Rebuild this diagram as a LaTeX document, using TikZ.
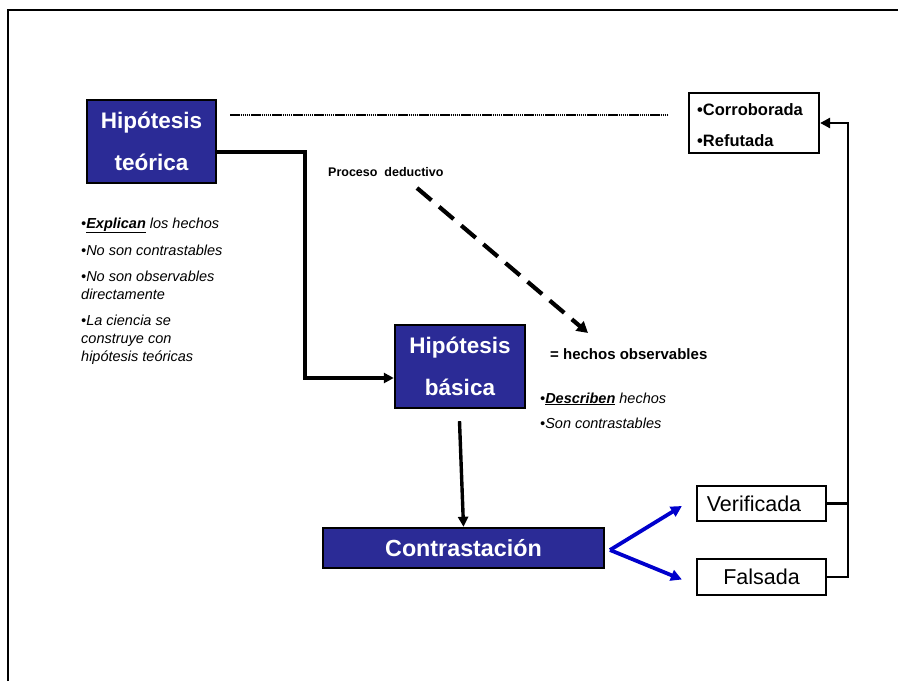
\documentclass[tikz,border=0pt]{standalone}
\usepackage{fontspec}
\setmainfont{Liberation Sans}
\usetikzlibrary{arrows.meta,calc}
\definecolor{navybox}{RGB}{43,43,150}
\definecolor{bluearrow}{RGB}{0,0,204}
\begin{document}
\begin{tikzpicture}[x=1pt,y=-1pt,
  hbox/.style={draw=black,line width=2.4pt,fill=navybox,text=white,
    font=\fontsize{22.5}{42}\selectfont\bfseries,align=center,inner sep=0pt},
  wbox/.style={draw=black,line width=2.2pt,fill=white,inner sep=0pt},
  note/.style={anchor=base west,inner sep=0pt,font=\fontsize{14.5}{16}\selectfont\itshape},
  boldnote/.style={anchor=base west,inner sep=0pt,font=\fontsize{15}{16}\selectfont\bfseries},
  conn/.style={line width=3.4pt,-{Triangle[length=10pt,width=10pt]}},
  bconn/.style={line width=3.8pt,draw=bluearrow,-{Triangle[length=11pt,width=11pt]}}]
\useasboundingbox (0,0) rectangle (898,681);
% outer frame
\draw[line width=2.6pt] (8,681) -- (8,10) -- (898,10);

% main boxes
\node[hbox,minimum width=129pt,minimum height=83pt] (teo) at (151.5,141.5) {Hipótesis\\teórica};
\node[hbox,minimum width=130pt,minimum height=83pt] (bas) at (460,366.5) {Hipótesis\\básica};
\node[hbox,minimum width=281pt,minimum height=40pt,font=\fontsize{23.3}{28}\selectfont\bfseries] (con) at (463.5,548) {Contrastación};

% outcome boxes
\node[wbox,minimum width=130pt,minimum height=60pt] (corr) at (754,123) {};
\node[boldnote,font=\fontsize{16.5}{18}\selectfont\bfseries] (corrA) at (697,115.5) {•Corroborada};
\node[boldnote,font=\fontsize{16.5}{18}\selectfont\bfseries] (corrB) at (697,146.5) {•Refutada};
\node[wbox,minimum width=129pt,minimum height=35pt,font=\fontsize{21.5}{24}\selectfont] (ver) at (761.5,503.5) {Verificada\hspace*{15pt}};
\node[wbox,minimum width=129pt,minimum height=36pt,font=\fontsize{21.5}{24}\selectfont] (fal) at (761.5,577) {Falsada};

% notes under the theoretical hypothesis
\node[note] (t1) at (81,228) {•\textbf{\underline{Explican}} los hechos};
\node[note] (t2) at (81,255) {•No son contrastables};
\node[note] (t3a) at (81,281) {•No son observables};
\node[note] (t3b) at (81,299) {directamente};
\node[note] (t4a) at (81,325) {•La ciencia se};
\node[note] (t4b) at (81,343) {construye con};
\node[note] (t4c) at (81,361) {hipótesis teóricas};

% notes beside the basic hypothesis
\node[boldnote] (obs) at (550,359) {= hechos observables};
\node[note] (b1) at (540,403) {•\textbf{\underline{Describen}} hechos};
\node[note] (b2) at (540,428) {•Son contrastables};
\node[boldnote,font=\fontsize{12.5}{14}\selectfont\bfseries] (ded) at (328,176.5) {Proceso\ \ deductivo};

% dotted link from the theoretical hypothesis to the verdict box
\coordinate (dotA) at (230,115);
\coordinate (dotB) at (668,115);
\draw[line width=2.2pt,dash pattern=on 1.5pt off 0.6pt] (dotA) -- (dotB);

% deductive process arrow
\coordinate (dedA) at (417,188);
\coordinate (dedB) at (588,333);
\draw[line width=4.2pt,dash pattern=on 19pt off 10pt,-{Triangle[length=11pt,width=12pt]}] (dedA) -- (dedB);

% theoretical -> basic
\coordinate (elbow) at (305,378);
\draw[conn] ($(teo.east)+(0,10.5)$) -| (elbow) -- (elbow -| bas.west);

% basic -> contrast
\draw[conn] ($(bas.south)+(-0.5,12)$) -- (con.north);

% contrast -> outcomes
\coordinate (fork) at (610,550);
\draw[bconn] (fork) -- ($(ver.west)+(-14,2.5)$);
\draw[bconn] (fork) -- ($(fal.west)+(-14,2.5)$);

% outcomes -> verdict
\coordinate (rail) at (848,0);
\draw[line width=2.8pt] (ver.east) -- (ver.east -| rail);
\draw[line width=2.8pt,-{Triangle[length=10pt,width=10pt]}] (fal.east) -- (fal.east -| rail) |- (corr.east);
\end{tikzpicture}
\end{document}
